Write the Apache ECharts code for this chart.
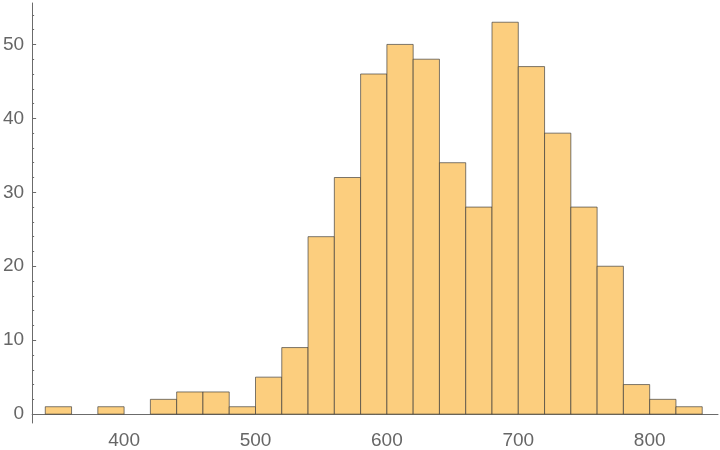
<!DOCTYPE html>
<html>
<head>
<meta charset="utf-8">
<script src="https://cdn.jsdelivr.net/npm/echarts@6/dist/echarts.min.js"></script>
<style>html,body{margin:0;padding:0;background:#fff}#c{width:720px;height:450px}</style>
</head>
<body>
<div id="c"></div>
<script>
// Histogram bins (left edge, right edge) and counts
const binStarts = [340,360,380,400,420,440,460,480,500,520,540,560,580,600,620,640,660,680,700,720,740,760,780,800,820];
const binEnds   = [360,380,400,420,440,460,480,500,520,540,560,580,600,620,640,660,680,700,720,740,760,780,800,820,840];
const counts    = [1,0,1,0,2,3,3,1,5,9,24,32,46,50,48,34,28,53,47,38,28,20,4,2,1];
const xTicks = [400,500,600,700,800];
const yTicks = [0,10,20,30,40,50];
const yMinorTicks = [2,4,6,8,12,14,16,18,22,24,26,28,32,34,36,38,42,44,46,48,52,54];

const data = [];
for (let i = 0; i < counts.length; i++) {
  if (counts[i] > 0) data.push([binStarts[i], binEnds[i], counts[i]]);
}

const axisColor = '#6b6b6b';
const font = 'Liberation Sans, Arial, sans-serif';

const chart = echarts.init(document.getElementById('c'), null, {renderer: 'canvas'});
chart.setOption({
  animation: false,
  backgroundColor: '#ffffff',
  grid: {left: 30, right: 2, top: 3, bottom: 23, containLabel: false},
  xAxis: {
    type: 'value', min: 330, max: 852,
    splitLine: {show: false},
    axisLine: {onZero: true, lineStyle: {color: axisColor, width: 1}},
    axisTick: {show: false},
    axisLabel: {customValues: xTicks, color: '#666', fontSize: 19, fontFamily: font, margin: 8}
  },
  yAxis: [{
    type: 'value', min: -1.2, max: 55.6, position: 'left',
    splitLine: {show: false},
    axisLine: {show: true, lineStyle: {color: axisColor, width: 1}},
    axisTick: {show: true, inside: true, length: 4, customValues: yTicks, lineStyle: {color: axisColor}},
    axisLabel: {customValues: yTicks, color: '#666', fontSize: 19, fontFamily: font, margin: 8}
  }, {
    type: 'value', min: -1.2, max: 55.6, position: 'left', offset: 0,
    splitLine: {show: false},
    axisLine: {show: false},
    axisTick: {show: true, inside: true, length: 2, customValues: yMinorTicks, lineStyle: {color: axisColor}},
    axisLabel: {show: false}
  }],
  series: [{
    type: 'custom',
    xAxisIndex: 0, yAxisIndex: 0,
    data: data,
    encode: {x: [0, 1], y: 2},
    renderItem: function (params, api) {
      const p1 = api.coord([api.value(0), api.value(2)]);
      const p2 = api.coord([api.value(1), 0]);
      return {
        type: 'rect',
        shape: {x: p1[0], y: p1[1], width: p2[0] - p1[0], height: p2[1] - p1[1]},
        style: {fill: '#fcce7e', stroke: 'rgba(55,55,55,0.65)', lineWidth: 1}
      };
    }
  }]
});
</script>
</body>
</html>
